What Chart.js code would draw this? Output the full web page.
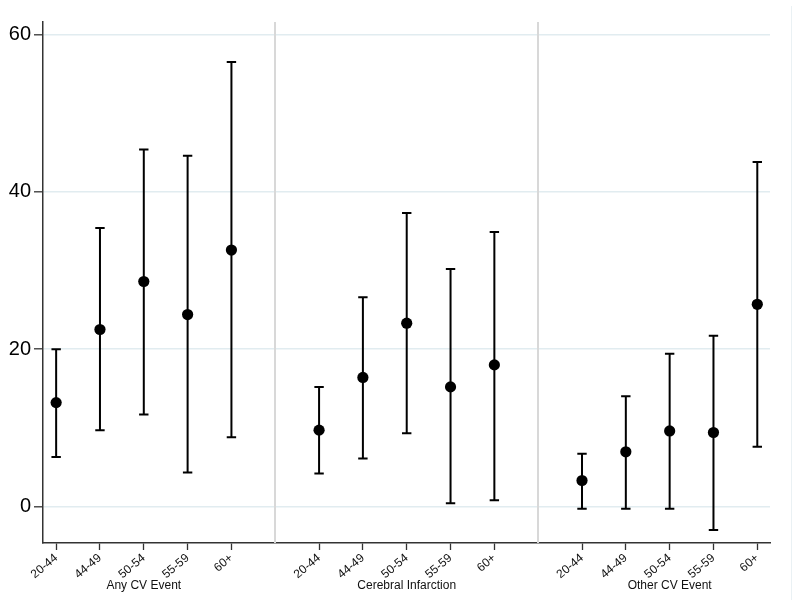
<!DOCTYPE html>
<html>
<head>
<meta charset="utf-8">
<script src="https://cdn.jsdelivr.net/npm/chart.js@4.4.1/dist/chart.umd.min.js"></script>
<style>
  html, body { margin: 0; padding: 0; background: #fff; }
  #wrap { position: relative; width: 800px; height: 610px; }
  #edge { position: absolute; left: 791px; top: 6px; width: 1px; height: 594px; background: #eaf1f4; }
</style>
</head>
<body>
<div id="wrap">
  <canvas id="c" width="800" height="610"></canvas>
  <div id="edge"></div>
</div>
<script>
// ---- data ----
const groups = ['Any CV Event', 'Cerebral Infarction', 'Other CV Event'];
const ageGroups = ['20-44', '44-49', '50-54', '55-59', '60+'];

const anyEst = [13.2, 22.5, 28.6, 24.4, 32.6];
const anyLo  = [6.3, 9.7, 11.7, 4.3, 8.8];
const anyHi  = [20.0, 35.4, 45.4, 44.6, 56.5];

const ciEst = [9.7, 16.4, 23.3, 15.2, 18.0];
const ciLo  = [4.2, 6.1, 9.3, 0.4, 0.8];
const ciHi  = [15.2, 26.6, 37.3, 30.2, 34.9];

const otherEst = [3.3, 6.95, 9.6, 9.4, 25.7];
const otherLo  = [-0.3, -0.3, -0.3, -3.0, 7.6];
const otherHi  = [6.7, 14.0, 19.4, 21.7, 43.8];

const yTicks = [0, 20, 40, 60];

// ---- build ----
const estAll = [anyEst, ciEst, otherEst];
const loAll = [anyLo, ciLo, otherLo];
const hiAll = [anyHi, ciHi, otherHi];
const slot = (g, i) => g * 6 + i + 1;

const points = [];
const bars = [];
const tickPos = [];
const tickLabel = {};
groups.forEach((gname, g) => {
  ageGroups.forEach((a, i) => {
    const x = slot(g, i);
    points.push({ x: x, y: estAll[g][i] });
    bars.push({ x: x, lo: loAll[g][i], hi: hiAll[g][i] });
    tickPos.push(x);
    tickLabel[x] = a;
  });
});
const separators = [6, 12];
const groupCenters = groups.map((_, g) => slot(g, 2));

const FONT = "'Liberation Sans', Arial, Helvetica, sans-serif";

const decoPlugin = {
  id: 'deco',
  beforeDatasetsDraw(chart) {
    const ctx = chart.ctx, xs = chart.scales.x, ys = chart.scales.y, ca = chart.chartArea;
    ctx.save();
    // separators
    ctx.strokeStyle = '#d8d8d8';
    ctx.lineWidth = 2;
    separators.forEach(s => {
      const px = Math.round(xs.getPixelForValue(s));
      ctx.beginPath();
      ctx.moveTo(px, ca.top);
      ctx.lineTo(px, ca.bottom);
      ctx.stroke();
    });
    // error bars
    ctx.strokeStyle = '#000';
    ctx.lineWidth = 2;
    ctx.lineCap = 'butt';
    bars.forEach(b => {
      const px = xs.getPixelForValue(b.x);
      const pl = ys.getPixelForValue(b.lo);
      const ph = ys.getPixelForValue(b.hi);
      ctx.beginPath();
      ctx.moveTo(px, pl);
      ctx.lineTo(px, ph);
      ctx.moveTo(px - 4.7, pl);
      ctx.lineTo(px + 4.7, pl);
      ctx.moveTo(px - 4.7, ph);
      ctx.lineTo(px + 4.7, ph);
      ctx.stroke();
    });
    ctx.restore();
  },
  afterDraw(chart) {
    const ctx = chart.ctx, xs = chart.scales.x;
    ctx.save();
    ctx.fillStyle = '#111';
    ctx.font = '12px ' + FONT;
    ctx.textAlign = 'center';
    ctx.textBaseline = 'middle';
    groups.forEach((gname, g) => {
      ctx.fillText(gname, xs.getPixelForValue(groupCenters[g]), 586);
    });
    ctx.restore();
  }
};

new Chart(document.getElementById('c'), {
  type: 'scatter',
  data: {
    datasets: [{
      data: points,
      pointRadius: 5.6,
      pointHoverRadius: 5.6,
      backgroundColor: '#000',
      borderColor: '#000',
      borderWidth: 0,
      showLine: false
    }]
  },
  options: {
    responsive: false,
    animation: false,
    events: [],
    layout: { padding: { top: 22, right: 30, left: 0, bottom: 0 } },
    plugins: { legend: { display: false }, tooltip: { enabled: false } },
    scales: {
      x: {
        type: 'linear',
        min: 0.7,
        max: 17.29,
        afterBuildTicks(scale) { scale.ticks = tickPos.map(v => ({ value: v })); },
        afterFit(scale) { scale.height = 67; },
        ticks: {
          autoSkip: false,
          maxRotation: 40,
          minRotation: 40,
          padding: 1,
          color: '#111',
          font: { family: FONT, size: 12 },
          callback: (v) => tickLabel[v] || ''
        },
        grid: {
          drawOnChartArea: false,
          drawTicks: true,
          tickLength: 7,
          tickColor: '#333',
          tickWidth: 1.3
        },
        border: { display: true, color: '#333', width: 1.5 }
      },
      y: {
        type: 'linear',
        min: -4.65,
        max: 61.6,
        afterBuildTicks(scale) { scale.ticks = yTicks.map(v => ({ value: v })); },
        afterFit(scale) { scale.width = 43; },
        ticks: {
          padding: 3,
          color: '#000',
          font: { family: FONT, size: 20 }
        },
        grid: {
          color: '#e1ecf0',
          lineWidth: 1.6,
          tickLength: 9,
          tickColor: '#333',
          tickWidth: 1.3
        },
        border: { display: true, color: '#333', width: 1.5 }
      }
    }
  },
  plugins: [decoPlugin]
});
</script>
</body>
</html>
